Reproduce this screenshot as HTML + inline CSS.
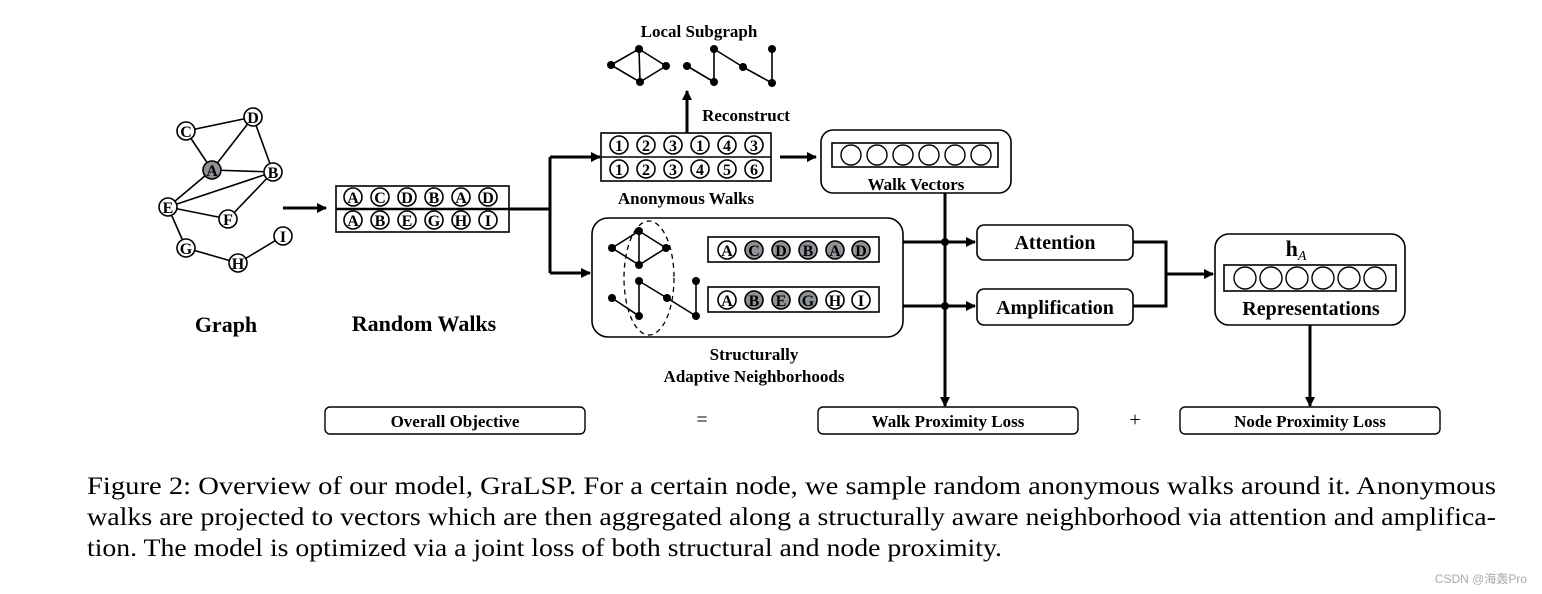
<!DOCTYPE html>
<html><head><meta charset="utf-8"><style>
body{margin:0;background:#fff;}
svg{display:block;}
text{font-family:"Liberation Serif",serif;}
</style></head><body>
<svg width="1542" height="594" viewBox="0 0 1542 594" xmlns="http://www.w3.org/2000/svg">
<defs>
<marker id="ar" markerWidth="10" markerHeight="10" refX="9" refY="5" orient="auto" markerUnits="userSpaceOnUse">
<path d="M0,0 L10,5 L0,10 z" fill="#000"/></marker>
</defs>
<g stroke="#000" stroke-width="1.6" fill="none">
<line x1="186" y1="131" x2="253" y2="117"/><line x1="186" y1="131" x2="212" y2="170"/>
<line x1="212" y1="170" x2="253" y2="117"/><line x1="253" y1="117" x2="273" y2="172"/>
<line x1="212" y1="170" x2="273" y2="172"/><line x1="212" y1="170" x2="168" y2="207"/>
<line x1="168" y1="207" x2="273" y2="172"/><line x1="228" y1="219" x2="273" y2="172"/>
<line x1="168" y1="207" x2="228" y2="219"/><line x1="168" y1="207" x2="186" y2="248"/>
<line x1="186" y1="248" x2="238" y2="263"/><line x1="238" y1="263" x2="283" y2="236"/>
</g>
<g stroke="#000" stroke-width="1.6" fill="#fff">
<circle cx="186" cy="131" r="9"/><circle cx="253" cy="117" r="9"/><circle cx="212" cy="170" r="9" fill="#8e9196"/>
<circle cx="273" cy="172" r="9"/><circle cx="168" cy="207" r="9"/><circle cx="228" cy="219" r="9"/>
<circle cx="186" cy="248" r="9"/><circle cx="238" cy="263" r="9"/><circle cx="283" cy="236" r="9"/>
</g>
<g font-size="16" text-anchor="middle" font-weight="bold">
<text x="186" y="137">C</text><text x="253" y="123">D</text><text x="212" y="176">A</text>
<text x="273" y="178">B</text><text x="168" y="213">E</text><text x="228" y="225">F</text>
<text x="186" y="254">G</text><text x="238" y="269">H</text><text x="283" y="242">I</text>
</g>
<g stroke="#000" stroke-width="3" fill="none">
<line x1="283" y1="208" x2="326" y2="208" marker-end="url(#ar)"/>
<polyline points="509,209 550,209"/>
<polyline points="550,157 550,273"/>
<line x1="550" y1="157" x2="600" y2="157" marker-end="url(#ar)"/>
<line x1="550" y1="273" x2="590" y2="273" marker-end="url(#ar)"/>
<line x1="687" y1="133" x2="687" y2="91" marker-end="url(#ar)"/>
<line x1="780" y1="157" x2="816" y2="157" marker-end="url(#ar)"/>
<line x1="903" y1="242" x2="975" y2="242" marker-end="url(#ar)"/>
<line x1="903" y1="306" x2="975" y2="306" marker-end="url(#ar)"/>
<line x1="945" y1="193" x2="945" y2="406" marker-end="url(#ar)"/>
<polyline points="1133,242 1166,242 1166,306 1133,306"/>
<line x1="1166" y1="274" x2="1213" y2="274" marker-end="url(#ar)"/>
<line x1="1310" y1="325" x2="1310" y2="406" marker-end="url(#ar)"/>
</g>
<circle cx="945" cy="242" r="4"/><circle cx="945" cy="306" r="4"/>
<g stroke="#000" stroke-width="1.6" fill="none">
<rect x="336" y="186" width="173" height="46"/>
<line x1="336" y1="209" x2="509" y2="209" stroke-width="2.5"/>
<rect x="601" y="133" width="170" height="48"/>
<line x1="601" y1="157" x2="771" y2="157"/>
</g>
<g stroke="#000" stroke-width="1.6" fill="#fff">
<circle cx="353" cy="197" r="9"/><circle cx="380" cy="197" r="9"/><circle cx="407" cy="197" r="9"/><circle cx="434" cy="197" r="9"/><circle cx="461" cy="197" r="9"/><circle cx="488" cy="197" r="9"/>
<circle cx="353" cy="220" r="9"/><circle cx="380" cy="220" r="9"/><circle cx="407" cy="220" r="9"/><circle cx="434" cy="220" r="9"/><circle cx="461" cy="220" r="9"/><circle cx="488" cy="220" r="9"/>
<circle cx="619" cy="145" r="9"/><circle cx="646" cy="145" r="9"/><circle cx="673" cy="145" r="9"/><circle cx="700" cy="145" r="9"/><circle cx="727" cy="145" r="9"/><circle cx="754" cy="145" r="9"/>
<circle cx="619" cy="169" r="9"/><circle cx="646" cy="169" r="9"/><circle cx="673" cy="169" r="9"/><circle cx="700" cy="169" r="9"/><circle cx="727" cy="169" r="9"/><circle cx="754" cy="169" r="9"/>
</g>
<g font-size="16" text-anchor="middle" font-weight="bold">
<text x="353" y="203">A</text><text x="380" y="203">C</text><text x="407" y="203">D</text><text x="434" y="203">B</text><text x="461" y="203">A</text><text x="488" y="203">D</text>
<text x="353" y="226">A</text><text x="380" y="226">B</text><text x="407" y="226">E</text><text x="434" y="226">G</text><text x="461" y="226">H</text><text x="488" y="226">I</text>
<text x="619" y="151">1</text><text x="646" y="151">2</text><text x="673" y="151">3</text><text x="700" y="151">1</text><text x="727" y="151">4</text><text x="754" y="151">3</text>
<text x="619" y="175">1</text><text x="646" y="175">2</text><text x="673" y="175">3</text><text x="700" y="175">4</text><text x="727" y="175">5</text><text x="754" y="175">6</text>
</g>
<g stroke="#000" stroke-width="1.6">
<line x1="639" y1="49" x2="611" y2="65"/><line x1="639" y1="49" x2="640" y2="82"/><line x1="639" y1="49" x2="666" y2="66"/>
<line x1="611" y1="65" x2="640" y2="82"/><line x1="666" y1="66" x2="640" y2="82"/>
<line x1="687" y1="66" x2="714" y2="82"/><line x1="714" y1="82" x2="714" y2="49"/><line x1="714" y1="49" x2="743" y2="67"/>
<line x1="743" y1="67" x2="772" y2="83"/><line x1="772" y1="83" x2="772" y2="49"/>
</g>
<g fill="#000">
<circle cx="639" cy="49" r="4"/><circle cx="611" cy="65" r="4"/><circle cx="666" cy="66" r="4"/><circle cx="640" cy="82" r="4"/>
<circle cx="687" cy="66" r="4"/><circle cx="714" cy="82" r="4"/><circle cx="714" cy="49" r="4"/><circle cx="743" cy="67" r="4"/><circle cx="772" cy="49" r="4"/><circle cx="772" cy="83" r="4"/>
</g>
<text x="699" y="37" font-size="17" font-weight="bold" text-anchor="middle">Local Subgraph</text>
<text x="746" y="121" font-size="17" font-weight="bold" text-anchor="middle">Reconstruct</text>
<text x="686" y="204" font-size="17" font-weight="bold" text-anchor="middle">Anonymous Walks</text>
<rect x="821" y="130" width="190" height="63" rx="12" fill="none" stroke="#000" stroke-width="1.6"/>
<rect x="832" y="143" width="166" height="24" fill="none" stroke="#000" stroke-width="1.6"/>
<g stroke="#000" stroke-width="1.4" fill="#fff">
<circle cx="851" cy="155" r="10"/><circle cx="877" cy="155" r="10"/><circle cx="903" cy="155" r="10"/><circle cx="929" cy="155" r="10"/><circle cx="955" cy="155" r="10"/><circle cx="981" cy="155" r="10"/>
</g>
<text x="916" y="190" font-size="17" font-weight="bold" text-anchor="middle">Walk Vectors</text>
<rect x="592" y="218" width="311" height="119" rx="16" fill="none" stroke="#000" stroke-width="1.6"/>
<g stroke="#000" stroke-width="1.6">
<line x1="639" y1="231" x2="612" y2="248"/><line x1="639" y1="231" x2="639" y2="265"/><line x1="639" y1="231" x2="666" y2="248"/>
<line x1="612" y1="248" x2="639" y2="265"/><line x1="666" y1="248" x2="639" y2="265"/>
<line x1="612" y1="298" x2="639" y2="316"/><line x1="639" y1="281" x2="639" y2="316"/><line x1="639" y1="281" x2="667" y2="298"/>
<line x1="667" y1="298" x2="696" y2="316"/><line x1="696" y1="281" x2="696" y2="316"/>
</g>
<g fill="#000">
<circle cx="639" cy="231" r="4"/><circle cx="612" cy="248" r="4"/><circle cx="666" cy="248" r="4"/><circle cx="639" cy="265" r="4"/>
<circle cx="639" cy="281" r="4"/><circle cx="612" cy="298" r="4"/><circle cx="639" cy="316" r="4"/><circle cx="667" cy="298" r="4"/><circle cx="696" cy="281" r="4"/><circle cx="696" cy="316" r="4"/>
</g>
<ellipse cx="649" cy="278" rx="25" ry="57" fill="none" stroke="#000" stroke-width="1.3" stroke-dasharray="5,4"/>
<rect x="708" y="237" width="171" height="25" fill="none" stroke="#000" stroke-width="1.6"/>
<rect x="708" y="287" width="171" height="25" fill="none" stroke="#000" stroke-width="1.6"/>
<g stroke="#000" stroke-width="1.6" fill="#8e9196">
<circle cx="727" cy="250" r="9" fill="#fff"/><circle cx="754" cy="250" r="9"/><circle cx="781" cy="250" r="9"/><circle cx="808" cy="250" r="9"/><circle cx="835" cy="250" r="9"/><circle cx="861" cy="250" r="9"/>
<circle cx="727" cy="300" r="9" fill="#fff"/><circle cx="754" cy="300" r="9"/><circle cx="781" cy="300" r="9"/><circle cx="808" cy="300" r="9"/><circle cx="835" cy="300" r="9" fill="#fff"/><circle cx="861" cy="300" r="9" fill="#fff"/>
</g>
<g font-size="16" text-anchor="middle" font-weight="bold">
<text x="727" y="256">A</text><text x="754" y="256">C</text><text x="781" y="256">D</text><text x="808" y="256">B</text><text x="835" y="256">A</text><text x="861" y="256">D</text>
<text x="727" y="306">A</text><text x="754" y="306">B</text><text x="781" y="306">E</text><text x="808" y="306">G</text><text x="835" y="306">H</text><text x="861" y="306">I</text>
</g>
<text x="754" y="360" font-size="17" font-weight="bold" text-anchor="middle">Structurally</text>
<text x="754" y="382" font-size="17" font-weight="bold" text-anchor="middle">Adaptive Neighborhoods</text>
<rect x="977" y="225" width="156" height="35" rx="7" fill="none" stroke="#000" stroke-width="1.6"/>
<rect x="977" y="289" width="156" height="36" rx="7" fill="none" stroke="#000" stroke-width="1.6"/>
<text x="1055" y="249" font-size="20" font-weight="bold" text-anchor="middle">Attention</text>
<text x="1055" y="314" font-size="20" font-weight="bold" text-anchor="middle">Amplification</text>
<rect x="1215" y="234" width="190" height="91" rx="14" fill="none" stroke="#000" stroke-width="1.6"/>
<rect x="1224" y="265" width="172" height="26" fill="none" stroke="#000" stroke-width="1.6"/>
<g stroke="#000" stroke-width="1.4" fill="#fff">
<circle cx="1245" cy="278" r="11"/><circle cx="1271" cy="278" r="11"/><circle cx="1297" cy="278" r="11"/><circle cx="1323" cy="278" r="11"/><circle cx="1349" cy="278" r="11"/><circle cx="1375" cy="278" r="11"/>
</g>
<text x="1296" y="256" font-size="22" font-weight="bold" text-anchor="middle">h<tspan font-size="14" font-style="italic" font-weight="normal" dy="4">A</tspan></text>
<text x="1311" y="315" font-size="20" font-weight="bold" text-anchor="middle">Representations</text>
<text x="226" y="332" font-size="22" font-weight="bold" text-anchor="middle">Graph</text>
<text x="424" y="331" font-size="22" font-weight="bold" text-anchor="middle">Random Walks</text>
<rect x="325" y="407" width="260" height="27" rx="5" fill="none" stroke="#000" stroke-width="1.4"/>
<rect x="818" y="407" width="260" height="27" rx="5" fill="none" stroke="#000" stroke-width="1.4"/>
<rect x="1180" y="407" width="260" height="27" rx="5" fill="none" stroke="#000" stroke-width="1.4"/>
<text x="455" y="427" font-size="17" font-weight="bold" text-anchor="middle">Overall Objective</text>
<text x="948" y="427" font-size="17" font-weight="bold" text-anchor="middle">Walk Proximity Loss</text>
<text x="1310" y="427" font-size="17" font-weight="bold" text-anchor="middle">Node Proximity Loss</text>
<text x="702" y="426" font-size="20" text-anchor="middle">=</text>
<text x="1135" y="426" font-size="20" text-anchor="middle">+</text>
<g font-size="25">
<text x="87" y="494" textLength="1409" lengthAdjust="spacingAndGlyphs">Figure 2: Overview of our model, GraLSP. For a certain node, we sample random anonymous walks around it. Anonymous</text>
<text x="87" y="525" textLength="1409" lengthAdjust="spacingAndGlyphs">walks are projected to vectors which are then aggregated along a structurally aware neighborhood via attention and amplifica-</text>
<text x="87" y="556" textLength="915" lengthAdjust="spacingAndGlyphs">tion. The model is optimized via a joint loss of both structural and node proximity.</text>
</g>
<text x="1527" y="583" font-size="12" fill="#aaa" text-anchor="end" style="font-family:'Liberation Sans','Noto Sans CJK SC',sans-serif">CSDN @海轰Pro</text>
</svg>
</body></html>
